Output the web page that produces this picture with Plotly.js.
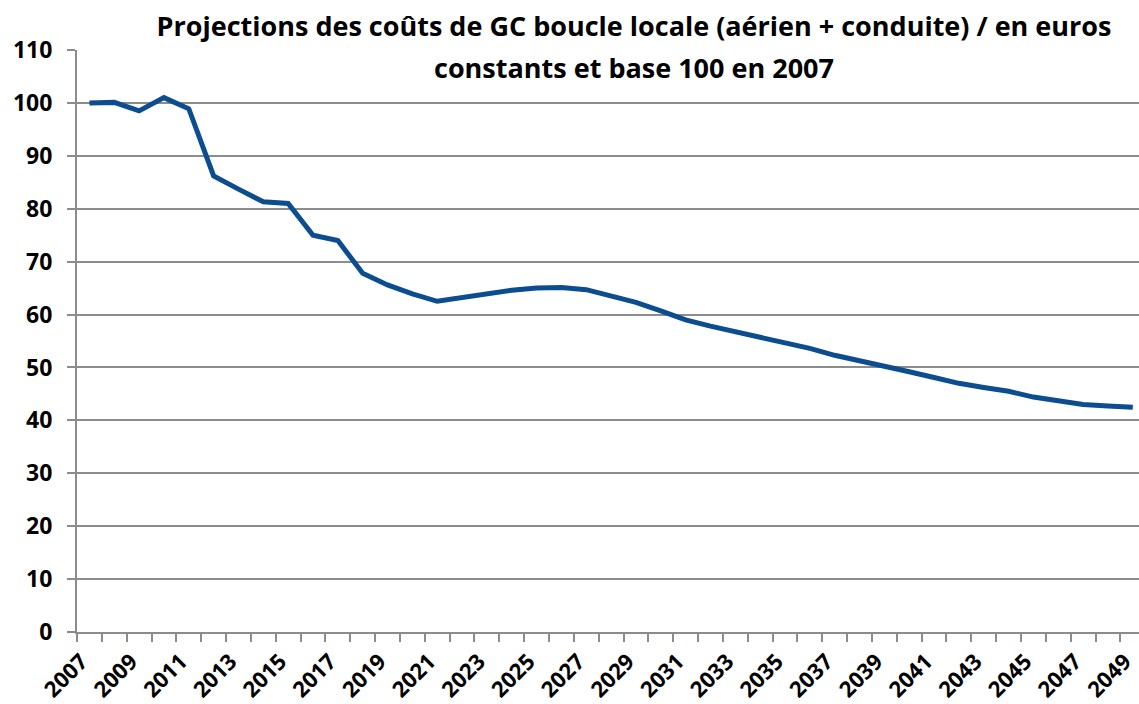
<!DOCTYPE html>
<html>
<head>
<meta charset="utf-8">
<script src="https://cdn.plot.ly/plotly-3.0.1.min.js"></script>
<style>
  html, body { margin: 0; padding: 0; background: #fff; }
  #chart { width: 1139px; height: 704px; }
</style>
</head>
<body>
<div id="chart"></div>
<script>
// Data
const years = [2007, 2008, 2009, 2010, 2011, 2012, 2013, 2014, 2015, 2016,
               2017, 2018, 2019, 2020, 2021, 2022, 2023, 2024, 2025, 2026,
               2027, 2028, 2029, 2030, 2031, 2032, 2033, 2034, 2035, 2036,
               2037, 2038, 2039, 2040, 2041, 2042, 2043, 2044, 2045, 2046,
               2047, 2048, 2049];
const costIndex = [100.0, 100.1, 98.5, 101.0, 98.9, 86.2, 83.7, 81.3, 81.0, 75.0,
                   74.0, 67.8, 65.6, 63.9, 62.5, 63.2, 64.0, 64.6, 65.0, 65.1,
                   64.7, 63.6, 62.3, 60.7, 59.0, 57.8, 56.8, 55.8, 54.8, 53.6,
                   52.3, 51.3, 50.4, 49.2, 48.1, 47.0, 46.2, 45.5, 44.4, 43.6,
                   43.0, 42.7, 42.5];
const xTickYears = [2007, 2009, 2011, 2013, 2015, 2017, 2019, 2021, 2023, 2025,
                    2027, 2029, 2031, 2033, 2035, 2037, 2039, 2041, 2043, 2045,
                    2047, 2049];
const titleLine1 = 'Projections des coûts de GC boucle locale (aérien + conduite) / en euros';
const titleLine2 = 'constants et base 100 en 2007';

const axisGray = '#8C8C8C';
const fontFamily = '"Open Sans", Lato, sans-serif';

const trace = {
  type: 'scatter',
  mode: 'lines',
  x: years,
  y: costIndex,
  line: { color: '#0B4D8E', width: 5, shape: 'linear' },
  hoverinfo: 'x+y',
  showlegend: false
};

const layout = {
  width: 1139,
  height: 704,
  paper_bgcolor: '#ffffff',
  plot_bgcolor: '#ffffff',
  margin: { l: 77, r: 0, t: 50, b: 72, pad: 0 },
  title: {
    text: '<span style="font-size:27px">' + titleLine1 + '</span><br><span style="font-size:27px">' + titleLine2 + '</span>',
    font: { family: fontFamily, size: 32, color: '#000', weight: 'bold' },
    x: 634 / 1139,
    xanchor: 'center',
    xref: 'container',
    yref: 'container',
    y: 0.949,
    yanchor: 'middle'
  },
  xaxis: {
    range: [2006.5, 2049.25],
    tickmode: 'array',
    tickvals: xTickYears,
    ticktext: xTickYears.map(String),
    tickangle: -45,
    ticks: '',
    ticklabeloverflow: 'allow',
    ticklabelstandoff: 6,
    ticklabelshift: -8,
    showgrid: false,
    zeroline: false,
    showline: true,
    linecolor: axisGray,
    linewidth: 2,
    tickfont: { family: fontFamily, size: 22, color: '#000', weight: 'bold' },
    minor: {
      tickmode: 'linear',
      tick0: 2006.5,
      dtick: 1,
      ticks: 'outside',
      ticklen: 8,
      tickwidth: 2,
      tickcolor: axisGray,
      showgrid: false
    },
    fixedrange: true
  },
  yaxis: {
    range: [0, 110],
    tick0: 0,
    dtick: 10,
    ticks: 'outside',
    ticklen: 8,
    tickwidth: 2,
    tickcolor: axisGray,
    showgrid: true,
    gridcolor: axisGray,
    gridwidth: 2,
    zeroline: false,
    showline: true,
    linecolor: axisGray,
    linewidth: 2,
    tickfont: { family: fontFamily, size: 23, color: '#000', weight: 'bold' },
    ticklabelstandoff: 10,
    fixedrange: true
  }
};

Plotly.newPlot('chart', [trace], layout, { displayModeBar: false, staticPlot: true });
</script>
</body>
</html>
